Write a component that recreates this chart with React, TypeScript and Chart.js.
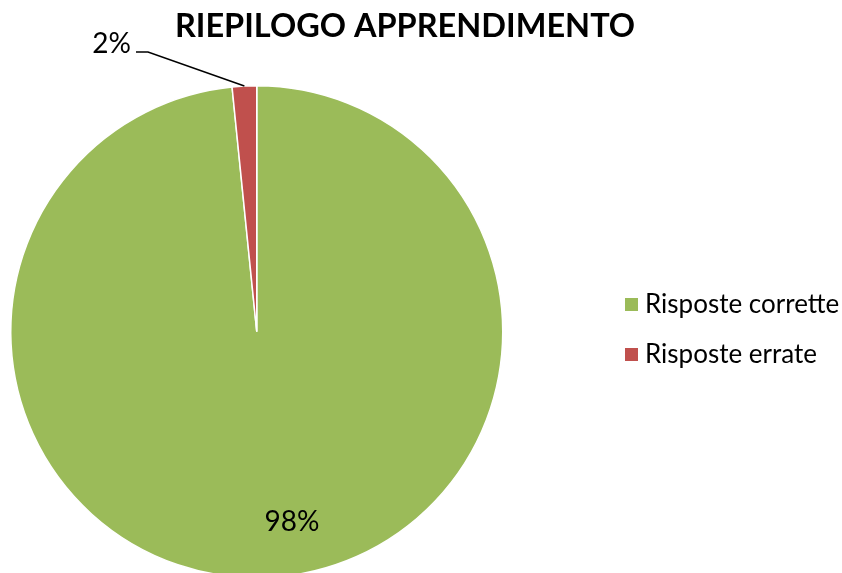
import React, { useEffect, useRef } from "react";
import { Chart, registerables } from "chart.js";

Chart.register(...registerables);

const title = "RIEPILOGO APPRENDIMENTO";
const categories = ["Risposte corrette", "Risposte errate"];
const values = [98.4, 1.6];
const colors = ["#9BBB59", "#C0504D"];

const FONT = "Lato, 'Open Sans', 'Liberation Sans', sans-serif";

const overlay = {
  id: "overlay",
  afterDraw(chart: any) {
    const ctx = chart.ctx as CanvasRenderingContext2D;
    const meta = chart.getDatasetMeta(0);
    const total = values.reduce((a, b) => a + b, 0);
    ctx.save();
    // title
    ctx.fillStyle = "#000";
    ctx.font = `bold 32.5px ${FONT}`;
    ctx.textAlign = "center";
    ctx.textBaseline = "middle";
    ctx.fillText(title, 405, 27);

    // labels
    const arc0 = meta.data[0];
    const arc1 = meta.data[1];
    const cx = arc0.x, cy = arc0.y, r = arc0.outerRadius;
    ctx.font = `28px ${FONT}`;
    const pct0 = Math.round((values[0] / total) * 100) + "%";
    const pct1 = Math.round((values[1] / total) * 100) + "%";
    ctx.textAlign = "center";
    ctx.fillText(pct0, cx + r * 0.143, cy + r * 0.775);

    // leader line for small slice
    const mid = (arc1.startAngle + arc1.endAngle) / 2;
    const ex = cx + Math.cos(mid) * r;
    const ey = cy + Math.sin(mid) * r;
    ctx.strokeStyle = "#000";
    ctx.lineWidth = 1.5;
    ctx.beginPath();
    ctx.moveTo(ex, ey);
    ctx.lineTo(148, 52);
    ctx.lineTo(136, 52);
    ctx.stroke();
    ctx.textAlign = "right";
    ctx.fillText(pct1, 131, 44);

    // legend
    ctx.font = `26px ${FONT}`;
    ctx.textAlign = "left";
    categories.forEach((c, i) => {
      const y = 305 + i * 50;
      ctx.fillStyle = colors[i];
      ctx.fillRect(625, y - 7, 13, 13);
      ctx.fillStyle = "#000";
      ctx.fillText(c, 645, y);
    });
    ctx.restore();
  },
};

export default function App() {
  const ref = useRef<HTMLCanvasElement>(null);
  useEffect(() => {
    document.body.style.margin = "0";
    const chart = new Chart(ref.current!, {
      type: "pie",
      data: {
        labels: categories,
        datasets: [
          {
            data: values,
            backgroundColor: colors,
            borderColor: "#ffffff",
            borderWidth: 1.5,
          },
        ],
      },
      options: {
        responsive: false,
        animation: false,
        layout: { padding: { left: 10, top: 85, right: 338.5, bottom: 21.5 } },
        plugins: {
          legend: { display: false },
          title: { display: false },
          tooltip: { enabled: false },
        },
      },
      plugins: [overlay],
    });
    return () => chart.destroy();
  }, []);
  return (
    <div style={{ position: "absolute", left: 0, top: 0, width: 842, height: 573, overflow: "hidden", background: "#fff" }}>
      <canvas ref={ref} width={842} height={600} style={{ width: 842, height: 600, display: "block" }} />
    </div>
  );
}
